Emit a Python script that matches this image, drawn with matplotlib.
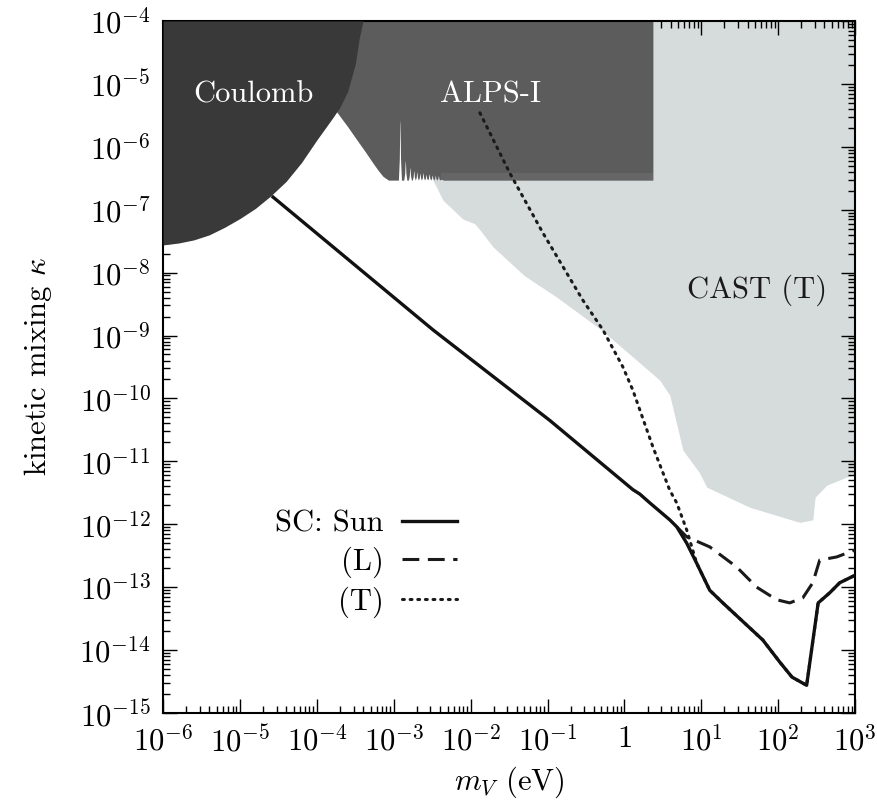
import numpy as np
import matplotlib.pyplot as plt
from matplotlib.ticker import LogLocator, FixedLocator, FixedFormatter, NullFormatter

plt.rcParams['font.family'] = 'serif'
plt.rcParams['font.serif'] = ['cmr10', 'DejaVu Serif']
plt.rcParams['mathtext.fontset'] = 'cm'
plt.rcParams['axes.unicode_minus'] = False
plt.rcParams['axes.formatter.use_mathtext'] = True

# all values are log10(m_V / eV) and log10(kappa)
coul_m = [-6.0, -5.8, -5.6, -5.4, -5.2, -5.0, -4.8, -4.6, -4.4, -4.2, -4.0, -3.8, -3.7,
          -3.6, -3.5, -3.45, -3.40]
coul_k = [-7.56, -7.53, -7.48, -7.40, -7.28, -7.14, -6.98, -6.78, -6.55, -6.25, -5.89, -5.55, -5.37,
          -5.12, -4.68, -4.28, -4.0]

alps_arm_m = [-4.3, -4.0, -3.74, -3.6, -3.48, -3.37, -3.27, -3.2, -3.14, -3.07, -3.0]
alps_arm_k = [-4.0, -4.9, -5.45, -5.68, -5.89, -6.08, -6.26, -6.38, -6.47, -6.53, -6.53]
alps_floor = -6.53
alps_end = 0.37
spike_m = [-2.92, -2.85, -2.79, -2.74, -2.70, -2.66, -2.62, -2.58, -2.54, -2.50, -2.46, -2.42, -2.38]
spike_k = [-5.57, -6.22, -6.33, -6.38, -6.40, -6.42, -6.41, -6.44, -6.43, -6.45, -6.45, -6.46, -6.47]

cast_m = [-2.49, -2.36, -2.10, -1.95, -1.88, -1.71, -1.30, -0.88, -0.30, 0.46, 0.59,
          0.76, 0.98, 1.07, 1.63, 2.28, 2.45, 2.48, 2.63, 2.89, 3.0]
cast_k = [-6.53, -6.85, -7.15, -7.22, -7.32, -7.59, -8.05, -8.39, -8.91, -9.71, -9.95,
          -10.82, -11.19, -11.41, -11.73, -11.97, -11.93, -11.57, -11.38, -11.25, -11.22]

sun_m = [-4.57, -2.49, -0.97, 0.11, 0.20, 0.33, 0.59, 0.68, 0.81, 0.94, 1.11, 1.28,
         1.80, 2.02, 2.18, 2.37, 2.52, 2.67, 2.80, 3.0]
sun_k = [-6.80, -8.91, -10.35, -11.45, -11.52, -11.66, -11.93, -12.04, -12.30, -12.62, -13.05, -13.25,
         -13.84, -14.19, -14.43, -14.56, -13.25, -13.09, -12.93, -12.81]

long_m = [0.68, 0.81, 1.11, 1.46, 1.72, 1.98, 2.15, 2.32, 2.45, 2.54, 2.76, 3.0]
long_k = [-12.04, -12.20, -12.36, -12.68, -13.00, -13.20, -13.25, -13.17, -12.93, -12.57, -12.52, -12.41]

trans_m = [-1.88, -1.49, -1.06, -0.54, -0.28, -0.02, 0.11, 0.37, 0.59, 0.68, 0.81, 0.94, 1.11, 1.28,
           1.80, 2.02, 2.18, 2.37, 2.52, 2.67, 2.80, 3.0]
trans_k = [-5.46, -6.42, -7.37, -8.44, -8.91, -9.50, -9.87, -10.77, -11.46, -11.66, -12.09, -12.62, -13.05, -13.25,
           -13.84, -14.19, -14.43, -14.56, -13.25, -13.09, -12.93, -12.81]

xtick_exp = [-6, -5, -4, -3, -2, -1, 0, 1, 2, 3]
xtick_labels = ['$10^{-6}$', '$10^{-5}$', '$10^{-4}$', '$10^{-3}$', '$10^{-2}$', '$10^{-1}$',
                '$1$', '$10^{1}$', '$10^{2}$', '$10^{3}$']
ytick_exp = list(range(-15, -3))

# ALPS lower edge: arm, then narrow resonance spikes on a flat floor
hw = 0.02
a_m = list(alps_arm_m)
a_k = list(alps_arm_k)
for c, t in zip(spike_m, spike_k):
    a_m += [c - hw, c - hw * 0.4, c - hw * 0.1, c, c + hw * 0.1, c + hw * 0.4, c + hw]
    d = t - alps_floor
    a_k += [alps_floor, alps_floor + d * 0.35, alps_floor + d * 0.92, t,
            alps_floor + d * 0.92, alps_floor + d * 0.35, alps_floor]
a_m += [alps_end, alps_end]
a_k += [alps_floor, -4.0]

fig = plt.figure(figsize=(8.77, 8.06), dpi=100)
ax = fig.add_axes([0.186, 0.1154, 0.789, 0.8586])
ax.set_xscale('log')
ax.set_yscale('log')

ax.fill_between(10.0 ** np.array(cast_m), 10.0 ** np.array(cast_k), 1e-4,
                color='#d6dbdc', lw=0, zorder=1)
ax.fill_between(10.0 ** np.array(a_m), 10.0 ** np.array(a_k), 1e-4,
                color='#5c5c5c', lw=0, zorder=2)
ax.fill_between([10.0 ** spike_m[-1], 10.0 ** alps_end], 10.0 ** alps_floor, 10.0 ** -6.42,
                color='#666666', lw=0, zorder=2.5)
ax.fill_between(10.0 ** np.array(coul_m), 10.0 ** np.array(coul_k), 1e-4,
                color='#393939', lw=0, zorder=3)

ax.plot(10.0 ** np.array(trans_m), 10.0 ** np.array(trans_k), color='#1a1a1a', lw=2.2,
        ls=(0, (0.6, 1.9)), dash_capstyle='round', zorder=4, label='(T)')
ax.plot(10.0 ** np.array(long_m), 10.0 ** np.array(long_k), color='#1a1a1a', lw=2.2,
        ls=(0, (5.5, 2.8)), zorder=4, label='(L)')
ax.plot(10.0 ** np.array(sun_m), 10.0 ** np.array(sun_k), color='#111111', lw=2.4,
        zorder=5, label='SC: Sun')

ax.set_xlim(1e-6, 1e3)
ax.set_ylim(1e-15, 1e-4)

ax.xaxis.set_major_locator(FixedLocator([10.0 ** e for e in xtick_exp]))
ax.xaxis.set_major_formatter(FixedFormatter(xtick_labels))
ax.yaxis.set_major_locator(FixedLocator([10.0 ** e for e in ytick_exp]))
ax.yaxis.set_major_formatter(FixedFormatter(['$10^{%d}$' % e for e in ytick_exp]))
for a in (ax.xaxis, ax.yaxis):
    a.set_minor_locator(LogLocator(base=10, subs=np.arange(2, 10), numticks=200))
    a.set_minor_formatter(NullFormatter())

ax.tick_params(which='both', direction='in', top=True, right=True, labelsize=22, width=1.0)
ax.tick_params(which='major', length=10, pad=9)
ax.tick_params(which='minor', length=5)
for s in ax.spines.values():
    s.set_linewidth(1.5)

ax.set_xlabel('$m_V$ (eV)', fontsize=22, labelpad=5)
ax.set_ylabel('kinetic mixing $\\kappa$', fontsize=22, labelpad=18)

ax.text(0.13, 0.893, 'Coulomb', transform=ax.transAxes, color='white', fontsize=22,
        ha='center', va='center', zorder=6)
ax.text(0.473, 0.893, 'ALPS-I', transform=ax.transAxes, color='white', fontsize=22,
        ha='center', va='center', zorder=6)
ax.text(0.858, 0.611, 'CAST (T)', transform=ax.transAxes, color='#1a1a1a', fontsize=22,
        ha='center', va='center', zorder=6)

h, l = ax.get_legend_handles_labels()
order = [2, 1, 0]
ax.legend([h[i] for i in order], [l[i] for i in order], markerfirst=False, frameon=False,
          fontsize=22, loc='center right', bbox_to_anchor=(0.425, 0.215), handlelength=1.8,
          handletextpad=0.6, labelspacing=0.28, borderpad=0, borderaxespad=0)

fig.savefig('out.png', dpi=100)
